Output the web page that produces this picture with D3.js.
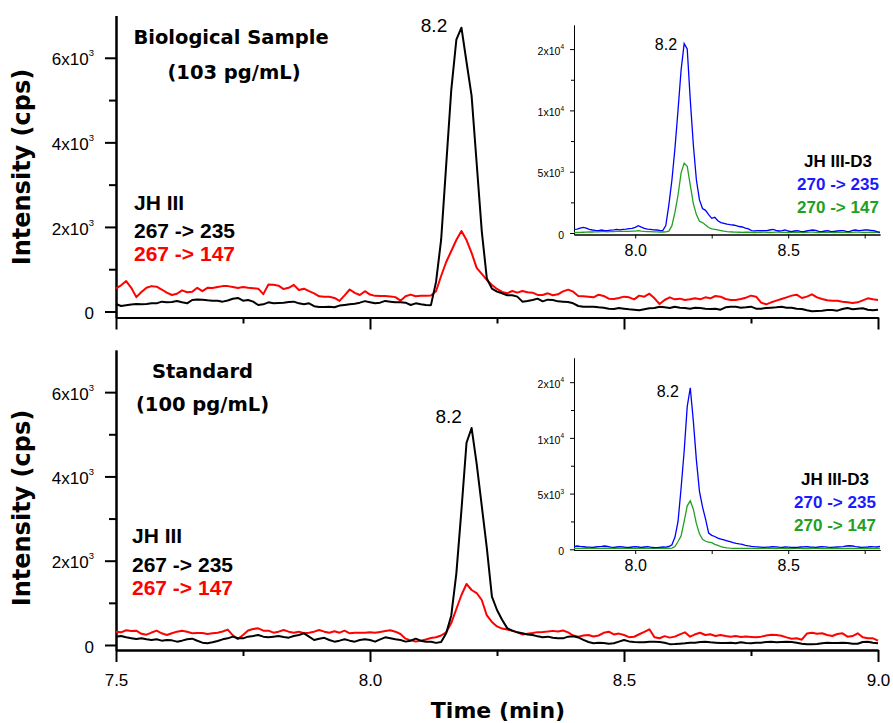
<!DOCTYPE html>
<html>
<head>
<meta charset="utf-8">
<script src="https://cdn.jsdelivr.net/npm/d3@7"></script>
<style>
  body { margin: 0; background: #fff; }
  svg { display: block; }
</style>
</head>
<body>
<script>
'use strict';

// traces are sampled every 0.01 min; main panels start at 7.50, insets at 7.80
const step = 0.01;
const mainStart = 7.5;
const insetStart = 7.8;

// ---- main panels (cps) ----
const topBlack = [178,130,150,168,178,172,176,193,193,233,
  217,225,250,217,193,272,285,280,264,256,
  256,233,260,300,320,256,272,233,154,170,
  217,193,200,209,225,233,193,170,193,125,
  105,108,114,99,140,154,170,185,209,245,
  220,193,209,250,233,217,217,209,154,193,
  170,154,150,700,1692,3468,5243,6427,6711,5900,
  5100,3500,1900,780,540,470,430,383,383,351,
  233,248,272,304,240,280,272,240,233,225,
  193,130,114,114,114,99,91,67,59,83,
  67,51,43,28,51,75,83,114,99,83,
  114,91,83,67,91,83,67,59,67,43,
  99,114,114,91,99,114,67,67,83,91,
  99,114,91,91,67,59,28,4,12,20,
  36,36,20,59,83,51,67,75,43,28,
  43];

const topRed = [548,620,720,560,340,460,560,600,588,520,
  445,390,420,500,455,465,560,480,560,555,
  580,600,600,580,555,580,560,550,540,410,
  640,630,610,530,560,630,510,540,480,430,
  360,350,350,320,250,380,520,440,390,480,
  400,370,365,365,355,340,256,360,400,360,
  370,370,380,480,840,1170,1430,1690,1905,1690,
  1385,1030,888,746,627,533,462,430,485,446,
  485,454,446,391,391,430,383,406,477,517,
  469,367,359,351,335,398,367,304,296,320,
  351,335,288,375,351,422,311,177,272,335,
  288,304,272,288,311,288,335,311,367,351,
  296,272,272,296,327,375,351,209,170,217,
  256,296,335,375,398,320,351,406,335,296,
  264,256,256,233,217,201,217,264,311,288,
  272];

const botBlack = [198,215,182,160,140,158,134,120,134,103,
  119,110,79,103,134,150,100,55,40,63,
  95,134,158,198,160,158,198,213,237,198,
  182,198,213,190,174,213,237,277,198,119,
  150,170,119,79,103,134,103,79,119,134,
  119,79,134,182,158,134,119,80,103,150,
  103,79,79,50,70,280,700,1700,3200,4800,
  5150,4300,3300,2300,1150,830,600,400,340,300,
  277,250,237,205,185,198,170,158,158,198,
  205,180,120,70,40,55,45,30,40,79,
  119,85,70,63,63,79,79,70,55,20,
  22,30,40,55,55,70,79,63,55,45,
  50,55,40,63,45,40,55,55,70,75,
  63,70,79,70,55,30,18,20,24,40,
  55,45,50,55,45,30,28,70,79,55,
  40];

const botRed = [316,300,350,330,340,265,245,295,340,277,
  237,277,316,340,316,280,285,285,261,277,
  292,320,365,230,140,237,345,380,395,340,
  340,292,316,356,316,292,316,277,292,316,
  356,316,292,324,292,340,277,292,292,292,
  300,292,310,330,350,316,260,150,110,85,
  100,130,165,185,225,300,520,854,1186,1447,
  1305,1233,1067,700,546,440,390,365,340,300,
  250,265,282,305,310,320,335,320,345,300,
  225,198,225,237,200,225,290,316,250,270,
  237,185,195,255,310,372,182,160,210,175,
  198,253,300,198,253,290,237,253,213,237,
  213,198,213,190,200,190,182,198,225,245,
  237,220,180,150,158,125,270,290,265,277,
  237,213,261,277,198,213,277,182,160,158,
  103];

// ---- insets (JH III-D3) ----
const insTopBlue = [299,320,400,462,400,300,245,210,190,245,
  200,190,230,250,299,260,290,320,360,381,
  462,598,480,370,320,299,260,245,210,190,
  600,2300,4323,6933,10033,13296,15450,15009,10849,7178,
  4323,2700,2000,1850,1500,1200,1280,1000,850,790,
  720,680,653,600,530,490,400,330,200,180,
  190,190,190,190,245,299,220,163,190,245,
  163,109,163,190,136,109,163,220,245,220,
  136,109,163,190,109,136,163,190,190,136,
  109,220,245,190,220,245,245,220,190,109,
  54];

const insTopGreen = [27,40,54,60,70,82,82,90,100,109,
  109,100,109,120,136,136,130,136,140,150,
  160,190,160,136,120,109,100,90,82,82,
  100,150,600,1700,3100,4900,5700,5450,3900,2400,
  1500,950,850,650,450,330,300,250,200,150,
  120,100,82,70,60,54,60,70,54,40,
  54,62,75,58,41,50,66,72,55,44,
  38,52,68,60,47,40,58,73,64,50,
  43,55,70,62,48,39,51,66,59,45,
  40,56,72,65,50,42,57,69,61,47,
  40];

const insBotBlue = [236,296,260,236,206,190,177,206,236,260,
  296,260,190,177,206,236,220,177,160,206,
  236,206,177,206,236,190,160,146,177,206,
  200,250,400,1100,2500,5500,8800,12800,14500,11500,
  8000,5200,3800,2700,1450,1250,1150,1000,920,840,
  760,680,600,530,480,440,360,300,260,236,
  220,200,177,190,206,236,220,190,177,206,
  190,177,160,177,206,220,236,206,190,177,
  206,236,220,190,177,190,206,220,236,296,
  320,296,236,206,177,190,206,236,220,206,
  250];

const insBotGreen = [90,85,80,95,100,90,80,75,85,90,
  95,100,90,85,80,90,95,100,95,85,
  80,90,100,95,85,80,75,80,90,95,
  90,85,100,250,700,1200,2500,3900,4350,3600,
  2300,1400,900,720,640,590,450,350,250,180,
  130,100,90,85,80,75,80,85,80,75,
  70,75,80,85,80,75,70,75,80,70,
  65,70,75,80,75,70,65,70,75,80,
  75,70,65,70,75,70,65,60,65,70,
  75,70,65,60,65,70,75,70,65,60,
  65];

// ---- ticks ----
const mainMajorX = [7.5, 8.0, 8.5, 9.0];
const mainMinorX = [7.75, 8.25, 8.75];
const mainMajorY = [0, 2000, 4000, 6000];
const mainMinorY = [1000, 3000, 5000];
const mainYLabels = ['0', '2x10', '4x10', '6x10'];
const mainYSups = ['', '3', '3', '3'];

const insMajorX = [8.0, 8.5];
const insMinorX = [8.25, 8.75];
const insMajorY = [0, 5000, 10000, 15000];
const insMinorY = [2500, 7500, 12500];
const insYLabels = ['0', '5x10', '1x10', '2x10'];
const insYSups = ['', '3', '4', '4'];

// peak labels: [time, intensity] of the text anchor
const topPeakLabel = [8.152, 6616];
const botPeakLabel = [8.181, 5266];
const insTopPeakLabel = [8.137, 14927];
const insBotPeakLabel = [8.143, 13672];

const FONT = 'Liberation Sans, Arial, sans-serif';
const BOLD_WIDE = 'DejaVu Sans, Verdana, sans-serif';

let svg = d3.select('body').append('svg')
  .attr('width', 893)
  .attr('height', 723);

function series(start, values) {
  return values.map((v, i) => ({ t: start + i * step, v: v }));
}

function styleAxis(sel, width, size) {
  sel.attr('font-family', FONT).attr('font-size', size);
  sel.selectAll('.domain').attr('stroke-width', width);
  sel.selectAll('.tick line').attr('stroke-width', width);
}

// replace tick text with base + superscript
function supTicks(sel, labels, sups, supSize, rise, dy) {
  sel.selectAll('.tick text').each(function (d, i) {
    let t = d3.select(this).text(null).attr('dy', dy);
    t.append('tspan').text(labels[i]);
    if (sups[i]) {
      t.append('tspan').attr('font-size', supSize).attr('dy', rise).text(sups[i]);
    }
  });
}

function addText(x, y, str, opts) {
  let t = svg.append('text')
    .attr('x', x)
    .attr('y', y)
    .attr('font-family', opts.family || FONT)
    .attr('font-size', opts.size)
    .attr('font-weight', opts.weight || 'normal')
    .attr('text-anchor', opts.anchor || 'start')
    .attr('fill', opts.color || '#000')
    .text(str);
  return t;
}

let mainX = d3.scaleLinear().domain([7.5, 9.0]).range([116, 878]);

function drawMain(p) {
  let y = d3.scaleLinear().domain(p.yDomain).range(p.yRange);
  let base = p.yRange[0];

  let minorX = svg.append('g').attr('transform', `translate(0,${base})`)
    .call(d3.axisBottom(mainX).tickValues(mainMinorX).tickSize(6).tickSizeOuter(0).tickFormat(''));
  styleAxis(minorX, 2, 17);

  let majorX = svg.append('g').attr('transform', `translate(0,${base})`)
    .call(d3.axisBottom(mainX).tickValues(mainMajorX).tickSize(12).tickSizeOuter(0)
      .tickPadding(12).tickFormat(p.xLabels ? d3.format('.1f') : ''));
  styleAxis(majorX, 2, 17);

  let minorY = svg.append('g').attr('transform', 'translate(116,0)')
    .call(d3.axisLeft(y).tickValues(mainMinorY).tickSize(7).tickSizeOuter(0).tickFormat(''));
  styleAxis(minorY, 2, 17);

  let majorY = svg.append('g').attr('transform', 'translate(116,0)')
    .call(d3.axisLeft(y).tickValues(mainMajorY).tickSize(11).tickSizeOuter(0).tickPadding(11));
  styleAxis(majorY, 2, 17);
  supTicks(majorY, mainYLabels, mainYSups, 9.5, -9, '0.42em');

  let line = d3.line()
    .x((d) => mainX(d.t))
    .y((d) => y(d.v));

  svg.append('path')
    .attr('d', line(series(mainStart, p.red)))
    .attr('fill', 'none')
    .attr('stroke', '#ff0000')
    .attr('stroke-width', 2)
    .attr('stroke-linejoin', 'round');

  svg.append('path')
    .attr('d', line(series(mainStart, p.black)))
    .attr('fill', 'none')
    .attr('stroke', '#000')
    .attr('stroke-width', 2)
    .attr('stroke-linejoin', 'round');

  addText(mainX(p.peak[0]), y(p.peak[1]), '8.2', { size: 19, anchor: 'end' });
}

function drawInset(p) {
  let x = d3.scaleLinear().domain([7.8, 8.8]).range([574, 880]);
  let y = d3.scaleLinear().domain(p.yDomain).range(p.yRange);
  let base = p.yRange[0];

  let minorX = svg.append('g').attr('transform', `translate(0,${base})`)
    .call(d3.axisBottom(x).tickValues(insMinorX).tickSize(4).tickSizeOuter(0).tickFormat(''));
  styleAxis(minorX, 1, 16);

  let majorX = svg.append('g').attr('transform', `translate(0,${base})`)
    .call(d3.axisBottom(x).tickValues(insMajorX).tickSize(4).tickSizeOuter(0)
      .tickPadding(6).tickFormat(d3.format('.1f')));
  styleAxis(majorX, 1, 16);

  let minorY = svg.append('g').attr('transform', 'translate(574,0)')
    .call(d3.axisLeft(y).tickValues(insMinorY).tickSize(3).tickSizeOuter(0).tickFormat(''));
  styleAxis(minorY, 1, 10.5);

  let majorY = svg.append('g').attr('transform', 'translate(574,0)')
    .call(d3.axisLeft(y).tickValues(insMajorY).tickSize(4).tickSizeOuter(0).tickPadding(6));
  styleAxis(majorY, 1, 10.5);
  supTicks(majorY, insYLabels, insYSups, 6.5, -5.5, '0.5em');

  let line = d3.line()
    .x((d) => x(d.t))
    .y((d) => y(d.v));

  svg.append('path')
    .attr('d', line(series(insetStart, p.green)))
    .attr('fill', 'none')
    .attr('stroke', '#22a022')
    .attr('stroke-width', 1.3);

  svg.append('path')
    .attr('d', line(series(insetStart, p.blue)))
    .attr('fill', 'none')
    .attr('stroke', '#0000ff')
    .attr('stroke-width', 1.3);

  addText(x(p.peak[0]), y(p.peak[1]), '8.2', { size: 16, anchor: 'end' });

  addText(p.legend[0], p.legend[1], 'JH III-D3', { size: 17, weight: 'bold', anchor: 'middle' });
  addText(p.legend[0], p.legend[1] + 23, '270 -> 235', { size: 17, weight: 'bold', anchor: 'middle', color: '#1a1aff' });
  addText(p.legend[0], p.legend[1] + 46, '270 -> 147', { size: 17, weight: 'bold', anchor: 'middle', color: '#22a022' });
}

drawMain({
  yDomain: [-142, 7000], yRange: [317.5, 15.5], xLabels: false,
  black: topBlack, red: topRed, peak: topPeakLabel
});
drawMain({
  yDomain: [-119, 7000], yRange: [650, 350], xLabels: true,
  black: botBlack, red: botRed, peak: botPeakLabel
});

drawInset({
  yDomain: [-122, 16966], yRange: [234.5, 25],
  blue: insTopBlue, green: insTopGreen, peak: insTopPeakLabel, legend: [838, 167]
});
drawInset({
  yDomain: [-63, 17170], yRange: [550, 358],
  blue: insBotBlue, green: insBotGreen, peak: insBotPeakLabel, legend: [835, 485]
});

// panel titles
addText(231, 44, 'Biological Sample', { family: BOLD_WIDE, size: 19.5, weight: 'bold', anchor: 'middle' });
addText(234, 79, '(103 pg/mL)', { family: BOLD_WIDE, size: 19.5, weight: 'bold', anchor: 'middle' });
addText(202.5, 378, 'Standard', { family: BOLD_WIDE, size: 19.5, weight: 'bold', anchor: 'middle' });
addText(202.5, 411, '(100 pg/mL)', { family: BOLD_WIDE, size: 19.5, weight: 'bold', anchor: 'middle' });

// main legends
addText(134, 210, 'JH III', { size: 21, weight: 'bold' });
addText(134, 238, '267 -> 235', { size: 21, weight: 'bold' });
addText(134, 261, '267 -> 147', { size: 21, weight: 'bold', color: '#ff0000' });
addText(132, 543, 'JH III', { size: 21, weight: 'bold' });
addText(132, 572, '267 -> 235', { size: 21, weight: 'bold' });
addText(132, 595, '267 -> 147', { size: 21, weight: 'bold', color: '#ff0000' });

// axis titles
svg.append('text')
  .attr('transform', 'translate(30,167)rotate(-90)')
  .attr('font-family', BOLD_WIDE).attr('font-size', 24).attr('font-weight', 'bold')
  .attr('text-anchor', 'middle')
  .text('Intensity (cps)');
svg.append('text')
  .attr('transform', 'translate(30,508)rotate(-90)')
  .attr('font-family', BOLD_WIDE).attr('font-size', 24).attr('font-weight', 'bold')
  .attr('text-anchor', 'middle')
  .text('Intensity (cps)');
addText(498, 718, 'Time (min)', { family: BOLD_WIDE, size: 22, weight: 'bold', anchor: 'middle' });
</script>
</body>
</html>
